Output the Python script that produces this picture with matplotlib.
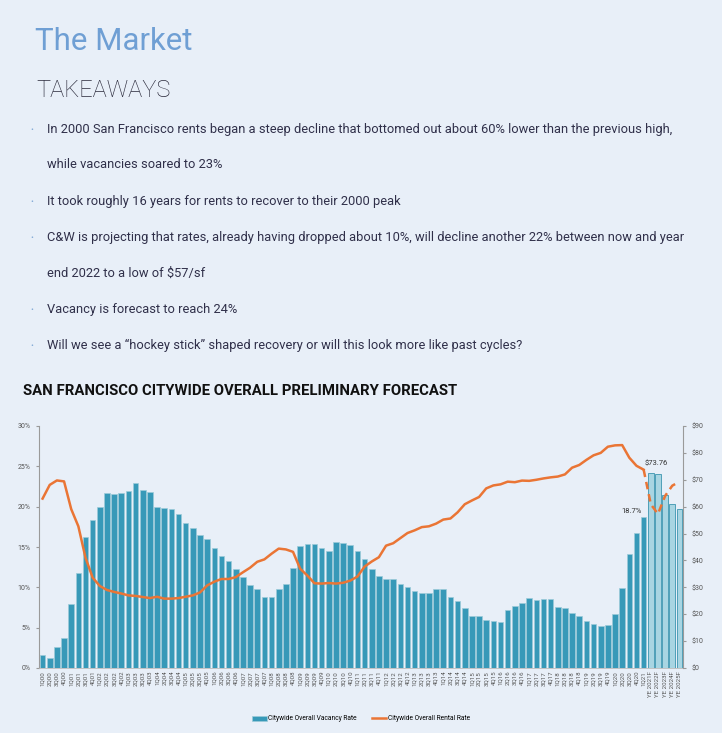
import numpy as np
import matplotlib
matplotlib.use("Agg")
import matplotlib.pyplot as plt

# ---- data ----
quarters = [f"{q}Q{y:02d}" for y in range(0, 21) for q in range(1, 5)] + ["1Q21"]
forecast_labels = ["YE 2021F", "YE 2022F", "YE 2023F", "YE 2024F", "YE 2025F"]

vacancy_hist = [
    1.65, 1.3, 2.6, 3.7,        # 2000
    7.9, 11.8, 16.2, 18.35,     # 2001
    20.0, 21.7, 21.55, 21.7,    # 2002
    22.0, 22.9, 22.1, 21.8,     # 2003
    19.95, 19.8, 19.7, 19.05,   # 2004
    18.0, 17.3, 16.5, 16.0,     # 2005
    14.85, 13.9, 13.3, 12.3,    # 2006
    11.3, 10.3, 9.8, 8.8,       # 2007
    8.8, 9.75, 10.45, 12.4,     # 2008
    15.1, 15.4, 15.4, 14.85,    # 2009
    14.55, 15.6, 15.5, 15.25,   # 2010
    14.55, 13.5, 12.3, 11.4,    # 2011
    11.0, 11.0, 10.4, 10.05,    # 2012
    9.5, 9.35, 9.3, 9.8,        # 2013
    9.8, 8.85, 8.3, 7.4,        # 2014
    6.4, 6.4, 6.0, 5.85,        # 2015
    5.7, 7.25, 7.7, 8.0,        # 2016
    8.65, 8.4, 8.6, 8.6,        # 2017
    7.55, 7.4, 6.8, 6.4,        # 2018
    5.8, 5.5, 5.25, 5.35,       # 2019
    6.65, 9.95, 14.1, 16.7,     # 2020
    18.7,                       # 1Q21
]
vacancy_fcst = [24.2, 24.0, 21.4, 20.3, 19.7]

rent_hist = [
    63.0, 68.1, 69.75, 69.4,
    59.1, 52.7, 41.0, 33.6,
    30.5, 29.0, 28.3, 27.7,
    27.0, 26.8, 26.4, 26.0,
    26.5, 25.8, 25.8, 26.0,
    26.5, 27.0, 28.1, 30.7,
    32.1, 33.1, 33.1, 33.8,
    35.6, 37.3, 39.5, 40.4,
    42.5, 44.4, 44.1, 43.2,
    36.9, 34.4, 31.5, 31.4,
    31.6, 31.4, 31.7, 32.5,
    34.0, 37.7, 39.6, 41.2,
    45.5, 46.4, 48.3, 50.2,
    51.2, 52.4, 52.7, 53.7,
    55.2, 55.6, 57.9, 60.9,
    62.3, 63.6, 66.8, 67.9,
    68.3, 69.3, 69.1, 69.7,
    69.6, 70.0, 70.5, 70.9,
    71.2, 72.0, 74.5, 75.5,
    77.4, 79.1, 80.0, 82.3,
    82.8, 82.9, 78.2, 75.2,
    73.76,
]
rent_fcst = [60.9, 57.3, 64.0, 67.8, 69.3]

bullets = [
    ("In 2000 San Francisco rents began a steep decline that bottomed out about 60% lower than the previous high,",
     "while vacancies soared to 23%"),
    ("It took roughly 16 years for rents to recover to their 2000 peak", None),
    ("C&W is projecting that rates, already having dropped about 10%, will decline another 22% between now and year",
     "end 2022 to a low of $57/sf"),
    ("Vacancy is forecast to reach 24%", None),
    ("Will we see a \u201chockey stick\u201d shaped recovery or will this look more like past cycles?", None),
]

BG = "#e8eff8"
BAR = "#3799b8"
BAR_F = "#a8d5e2"
LINE = "#ea7535"
GRAY = "#9a9a9a"
W, H = 722, 733

plt.rcParams["font.family"] = ["Roboto", "DejaVu Sans"]

fig = plt.figure(figsize=(W / 100, H / 100), dpi=100, facecolor=BG)


def fy(px):
    return 1 - px / H


# ---- header text ----
fig.text(35 / W, fy(50), "The Market", color="#6f9fd4", fontsize=22.5, va="baseline")
fig.text(36 / W, fy(97), "TAKEAWAYS", color="#2b2b3c", fontsize=17,
         fontweight="light", va="baseline")

y = 129
for first, second in bullets:
    fig.text(30 / W, fy(y + 1), "\u2022", color="#7fa7d4", fontsize=6, va="center")
    fig.text(47 / W, fy(y), first, color="#30304a", fontsize=9.3, va="center")
    y += 36
    if second:
        fig.text(47 / W, fy(y), second, color="#30304a", fontsize=9.3, va="center")
        y += 36

fig.text(23 / W, fy(391), "SAN FRANCISCO CITYWIDE OVERALL PRELIMINARY FORECAST",
         color="#111111", fontsize=10.7, fontweight="bold", va="center")

# ---- chart ----
ax = fig.add_axes([39 / W, fy(668), (683 - 39) / W, (668 - 426) / H])
ax.set_facecolor(BG)

n_hist = len(vacancy_hist)
x_hist = np.arange(n_hist)
x_fcst = np.arange(n_hist, n_hist + len(vacancy_fcst))
labels = quarters + forecast_labels

ax.bar(x_hist, vacancy_hist, width=0.78, color=BAR, edgecolor="#9ccbd9",
       linewidth=0.5, label="Citywide Overall Vacancy Rate")
ax.bar(x_fcst, vacancy_fcst, width=0.78, color=BAR_F, edgecolor="#4f9fb8",
       linewidth=0.7)

ax.set_xlim(-0.5, len(labels) - 0.5)
ax.set_ylim(0, 30)
ax.set_yticks(np.arange(0, 31, 5))
ax.set_yticklabels([f"{v}%" for v in range(0, 31, 5)])
ax.set_xticks(np.arange(len(labels)))
ax.set_xticklabels(labels, rotation=90, fontsize=4.4, color="#555555")
ax.tick_params(axis="x", length=0, pad=2)
ax.tick_params(axis="y", labelsize=5, colors="#555555", length=2.5, color=GRAY)
for s in ["top", "right"]:
    ax.spines[s].set_visible(False)
ax.spines["left"].set_color(GRAY)
ax.spines["bottom"].set_color("#bbbbbb")
ax.spines["bottom"].set_linewidth(0.6)

ax2 = ax.twinx()
ax2.plot(x_hist, rent_hist, color=LINE, linewidth=1.8,
         label="Citywide Overall Rental Rate")
ax2.plot(np.concatenate([[x_hist[-1]], x_fcst]),
         [rent_hist[-1]] + rent_fcst, color=LINE, linewidth=1.8,
         linestyle=(0, (3, 2)))
ax2.set_ylim(0, 90)
ax2.set_yticks(np.arange(0, 91, 10))
ax2.set_yticklabels([f"${v}" for v in range(0, 91, 10)])
ax2.tick_params(axis="y", labelsize=5, colors="#555555", length=2.5, color=GRAY)
for s in ["top", "left", "bottom"]:
    ax2.spines[s].set_visible(False)
ax2.spines["right"].set_color(GRAY)

ax.annotate(f"{vacancy_hist[-1]}%", (x_hist[-1], vacancy_hist[-1]),
            xytext=(-1, 3), textcoords="offset points", ha="right",
            fontsize=5.5, color="#333333")
ax2.annotate(f"${rent_hist[-1]:.2f}", (x_hist[-1], rent_hist[-1]),
             xytext=(1, 3), textcoords="offset points", ha="left",
             fontsize=5.5, color="#333333")

h1, l1 = ax.get_legend_handles_labels()
h2, l2 = ax2.get_legend_handles_labels()
fig.legend(h1 + h2, l1 + l2, loc="center", bbox_to_anchor=(0.5, fy(719)),
           ncol=2, frameon=False, fontsize=4.8, handlelength=2.2,
           handletextpad=0.2, columnspacing=2.2)

fig.savefig("out.png", dpi=100, facecolor=BG)
